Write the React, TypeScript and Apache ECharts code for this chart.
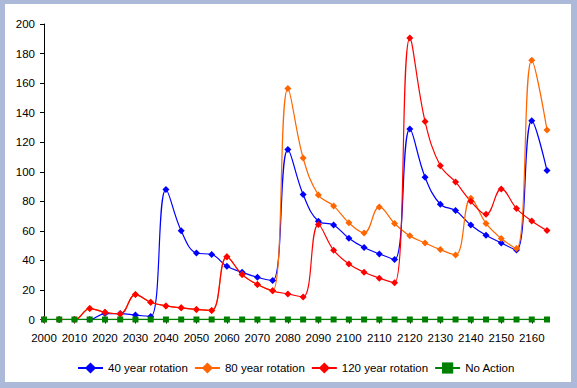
import React, { useEffect, useRef } from "react";
import * as echarts from "echarts";

const years: string[] = [];
for (let y = 2000; y <= 2165; y += 5) years.push(String(y));

const rot40 = [0, 0, 0, 0, 4, 4, 3, 2, 88, 60, 45, 44, 36, 32, 28.6, 26.4, 115, 84.6, 66.5, 64, 55, 48.7, 44.4, 40.6, 129, 96.3, 78, 73.7, 64, 57, 51.8, 47, 134.6, 100.8];
const rot80 = [0, 0, 0, 7.4, 4.9, 3.8, 16.9, 11.7, 9.2, 7.9, 6.8, 6.1, 42.4, 30.4, 23.7, 19.4, 156.3, 109.3, 84.3, 76.9, 65.4, 58.6, 76.2, 65, 56.6, 51.8, 47.3, 43.7, 82, 65, 54.8, 48, 175.4, 128.3];
const rot120 = [0, 0, 0, 7.4, 4.9, 3.8, 16.9, 11.7, 9.2, 7.9, 6.8, 6.1, 42.4, 30.4, 23.7, 19.4, 17.3, 15.3, 64.3, 46.9, 37.6, 32, 28, 24.8, 190.5, 134, 104, 93.1, 80, 71.2, 88.4, 75.1, 66.7, 60.2];
const noAction = years.map(() => 0);

const seriesNames = ["40 year rotation", "80 year rotation", "120 year rotation", "No Action"];
const yTicks = { min: 0, max: 200, interval: 20 };

export default function App() {
  const ref = useRef<HTMLDivElement>(null);
  useEffect(() => {
    if (!ref.current) return;
    const chart = echarts.init(ref.current, undefined, { renderer: "svg" });
    const font = "Liberation Sans, Arial, sans-serif";
    const mk = (name: string, data: number[], color: string, symbol: string, size: number, width: number) => ({
      name,
      type: "line",
      data,
      smooth: 0.4,
      symbol,
      symbolSize: size,
      showSymbol: true,
      lineStyle: { color, width },
      itemStyle: { color, borderWidth: 0 },
      emphasis: { disabled: true },
    });
    chart.setOption({
      animation: false,
      backgroundColor: "transparent",
      textStyle: { fontFamily: font },
      graphic: [
        { type: "rect", shape: { x: 5, y: 4, width: 566, height: 378 }, style: { fill: "#ffffff" }, z: -10, silent: true },
      ],
      grid: { left: 44, top: 24, width: 503, height: 295.5, containLabel: false },
      legend: {
        left: 72,
        top: 357,
        itemWidth: 25,
        itemHeight: 14,
        itemGap: 6,
        textStyle: { fontSize: 11.5, color: "#000", fontFamily: font },
        data: seriesNames,
      },
      xAxis: {
        type: "category",
        data: years,
        boundaryGap: false,
        axisLine: { lineStyle: { color: "#000", width: 1 } },
        axisTick: { show: true, interval: 1, length: 4, lineStyle: { color: "#000" } },
        axisLabel: { interval: 1, color: "#000", fontSize: 11.5, margin: 12, fontFamily: font },
        splitLine: { show: false },
      },
      yAxis: {
        type: "value",
        min: yTicks.min,
        max: yTicks.max,
        interval: yTicks.interval,
        axisLine: { show: true, lineStyle: { color: "#000", width: 1 } },
        axisTick: { show: true, length: 4, lineStyle: { color: "#000" } },
        axisLabel: { color: "#000", fontSize: 11.5, margin: 9, fontFamily: font },
        splitLine: { show: false },
      },
      series: [
        mk(seriesNames[0], rot40, "#0000FF", "diamond", 7, 1.2),
        mk(seriesNames[1], rot80, "#FF6600", "diamond", 7, 1.2),
        mk(seriesNames[2], rot120, "#FF0000", "diamond", 7, 1.2),
        mk(seriesNames[3], noAction, "#008000", "rect", 6, 1.5),
      ],
    });
    return () => chart.dispose();
  }, []);
  return (
    <div style={{ position: "fixed", left: 0, top: 0, width: 577, height: 388, background: "#adb9d9" }}>
      <div ref={ref} style={{ width: 577, height: 388 }} />
    </div>
  );
}
